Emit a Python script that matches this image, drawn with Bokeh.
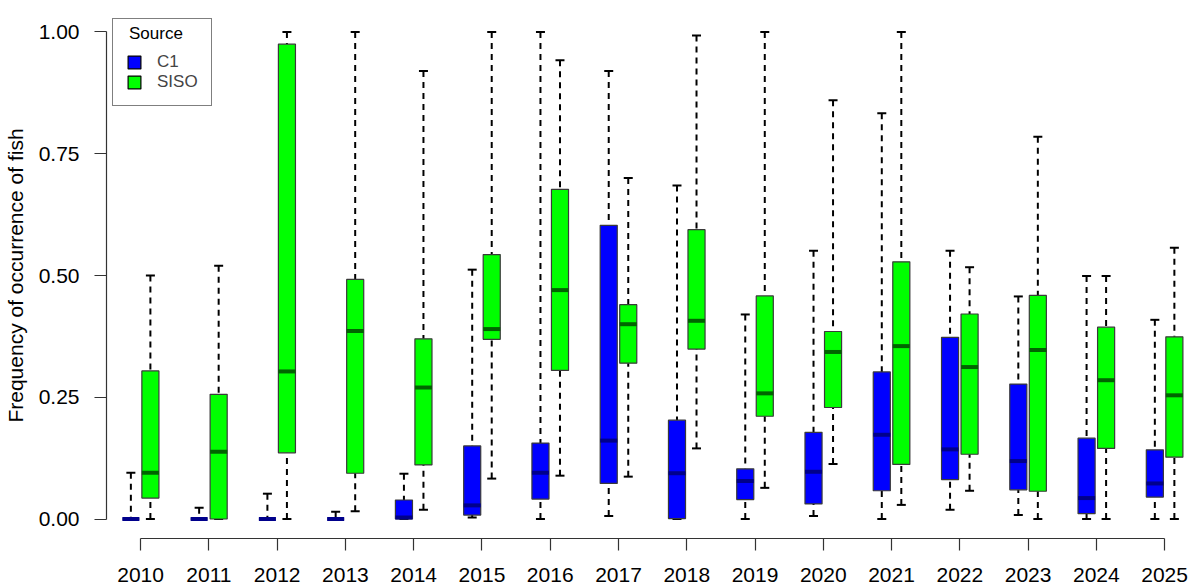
from bokeh.plotting import figure
from bokeh.models import (ColumnDataSource, Range1d, FixedTicker, NumeralTickFormatter,
                          Legend, LegendItem)
from bokeh.transform import dodge
from bokeh.embed import file_html
from bokeh.resources import INLINE

years = [2010, 2011, 2012, 2013, 2014, 2015, 2016, 2017,
         2018, 2019, 2020, 2021, 2022, 2023, 2024, 2025]

# C1 five-number summaries
c1_lo  = [0.000, 0.000, 0.000, 0.000, 0.000, 0.003, 0.000, 0.006, 0.000, 0.000, 0.006, 0.000, 0.019, 0.008, 0.000, 0.000]
c1_q1  = [0.000, 0.000, 0.000, 0.000, 0.000, 0.008, 0.041, 0.073, 0.001, 0.040, 0.031, 0.058, 0.081, 0.060, 0.011, 0.045]
c1_med = [0.000, 0.000, 0.000, 0.000, 0.003, 0.028, 0.095, 0.161, 0.094, 0.078, 0.097, 0.173, 0.143, 0.119, 0.043, 0.073]
c1_q3  = [0.000, 0.000, 0.000, 0.000, 0.039, 0.150, 0.156, 0.603, 0.203, 0.103, 0.178, 0.302, 0.373, 0.277, 0.166, 0.142]
c1_hi  = [0.095, 0.023, 0.052, 0.015, 0.093, 0.512, 1.000, 0.920, 0.685, 0.420, 0.551, 0.833, 0.551, 0.457, 0.499, 0.409]

# SISO five-number summaries
siso_lo  = [0.000, 0.000, 0.000, 0.016, 0.019, 0.083, 0.089, 0.087, 0.145, 0.064, 0.113, 0.029, 0.058, 0.000, 0.000, 0.000]
siso_q1  = [0.043, 0.000, 0.136, 0.094, 0.111, 0.369, 0.305, 0.320, 0.349, 0.211, 0.229, 0.112, 0.133, 0.057, 0.145, 0.127]
siso_med = [0.095, 0.138, 0.303, 0.386, 0.270, 0.390, 0.470, 0.400, 0.407, 0.258, 0.343, 0.355, 0.312, 0.347, 0.285, 0.254]
siso_q3  = [0.304, 0.256, 0.975, 0.492, 0.370, 0.543, 0.677, 0.440, 0.594, 0.458, 0.385, 0.528, 0.421, 0.459, 0.394, 0.374]
siso_hi  = [0.500, 0.520, 1.000, 1.000, 0.920, 1.000, 0.942, 0.700, 0.993, 1.000, 0.860, 1.000, 0.517, 0.785, 0.499, 0.557]

y_ticks = [0.0, 0.25, 0.5, 0.75, 1.0]
series_names = ["C1", "SISO"]
legend_title = "Source"
box_colors = ["#0000FF", "#00FF00"]
median_colors = ["#00008B", "#006400"]

FONT = "Liberation Sans"

p = figure(width=1188, height=584, output_backend="svg", toolbar_location=None,
           x_range=Range1d(2009.5, 2025.35), y_range=Range1d(-0.04, 1.04),
           min_border_left=105, min_border_right=0, min_border_top=12, min_border_bottom=10)
p.outline_line_color = None
p.xgrid.visible = False
p.ygrid.visible = False
p.background_fill_color = "white"
p.border_fill_color = "white"

offsets = [-0.143, 0.143]
box_w = 0.25
data_sets = [
    (c1_lo, c1_q1, c1_med, c1_q3, c1_hi),
    (siso_lo, siso_q1, siso_med, siso_q3, siso_hi),
]

legend_items = []
blank = None
for name, off, fc, mc, (lo, q1, med, q3, hi) in zip(series_names, offsets, box_colors, median_colors, data_sets):
    src = ColumnDataSource(dict(year=years, lo=lo, q1=q1, med=med, q3=q3, hi=hi))
    xs = dodge("year", off, range=p.x_range)
    # whiskers
    p.segment(x0=xs, y0="hi", x1=xs, y1="q3", source=src, line_color="black",
              line_width=2, line_dash="6 5")
    p.segment(x0=xs, y0="lo", x1=xs, y1="q1", source=src, line_color="black",
              line_width=2, line_dash="6 5")
    # caps
    p.scatter(x=xs, y="hi", source=src, marker="dash", size=9, line_color="black", line_width=2)
    p.scatter(x=xs, y="lo", source=src, marker="dash", size=9, line_color="black", line_width=2)
    # boxes
    p.vbar(x=xs, width=box_w, bottom="q1", top="q3", source=src, fill_color=fc,
           line_color="#3a3a3a", line_width=1.2)
    # medians
    p.rect(x=xs, y="med", width=box_w, height=4, height_units="screen", source=src,
           fill_color=mc, line_color=None)
    # legend swatch renderer (hidden, black outline)
    dummy = p.vbar(x=xs, width=box_w, bottom="q1", top="q3", source=src, fill_color=fc,
                   line_color="black", line_width=1.2, visible=False)
    legend_items.append(LegendItem(label=name, renderers=[dummy]))
    if blank is None:
        blank = p.vbar(x=xs, width=box_w, bottom="q1", top="q3", source=src,
                       fill_color=None, line_color=None, visible=False)

# boxed legend; a blank title line reserves room for the centered title
legend = Legend(items=legend_items, title=" ", location="top_left", margin=6,
                border_line_color="black", border_line_width=1.5,
                padding=13, spacing=0, glyph_width=16, glyph_height=16, label_height=16,
                label_standoff=15, label_text_font=FONT, label_text_font_size="17px",
                title_text_font=FONT, title_text_font_size="17px",
                title_text_font_style="normal", title_standoff=0,
                title_text_color=None, background_fill_alpha=1.0, click_policy="none")
p.add_layout(legend, "center")

# centered legend title drawn as a borderless single-entry legend
title_legend = Legend(items=[LegendItem(label=legend_title, renderers=[blank])],
                      location=(22, 494), margin=0, padding=0, spacing=0,
                      glyph_width=1, glyph_height=16, label_height=16, label_standoff=0,
                      border_line_color=None, background_fill_alpha=0.0,
                      label_text_font=FONT, label_text_font_size="17px",
                      label_text_color="black", click_policy="none")
p.add_layout(title_legend, "center")

# axes
ax_col = "#333333"
yax = p.yaxis[0]
yax.ticker = FixedTicker(ticks=y_ticks)
yax.formatter = NumeralTickFormatter(format="0.00")
yax.bounds = (0, 1)
yax.axis_label = "Frequency of occurrence of fish"
yax.axis_label_text_font = FONT
yax.axis_label_text_font_size = "21px"
yax.axis_label_text_font_style = "normal"
yax.axis_label_text_color = "black"
yax.axis_label_standoff = 9
yax.major_label_text_font = FONT
yax.major_label_text_font_size = "21px"
yax.major_label_text_color = "black"
yax.major_label_standoff = 15
yax.major_tick_out = 12
yax.major_tick_in = 0
yax.minor_tick_out = 0
yax.minor_tick_in = 0
yax.axis_line_color = ax_col
yax.major_tick_line_color = ax_col
yax.axis_line_width = 1.2
yax.major_tick_line_width = 1.2

xax = p.xaxis[0]
xax.ticker = FixedTicker(ticks=years)
xax.bounds = (years[0], years[-1])
xax.major_label_text_font = FONT
xax.major_label_text_font_size = "21px"
xax.major_label_text_color = "black"
xax.major_label_standoff = 17
xax.major_tick_out = 12
xax.major_tick_in = 0
xax.minor_tick_out = 0
xax.minor_tick_in = 0
xax.axis_line_color = ax_col
xax.major_tick_line_color = ax_col
xax.axis_line_width = 1.2
xax.major_tick_line_width = 1.2

open("out.html", "w").write(file_html(p, INLINE))
